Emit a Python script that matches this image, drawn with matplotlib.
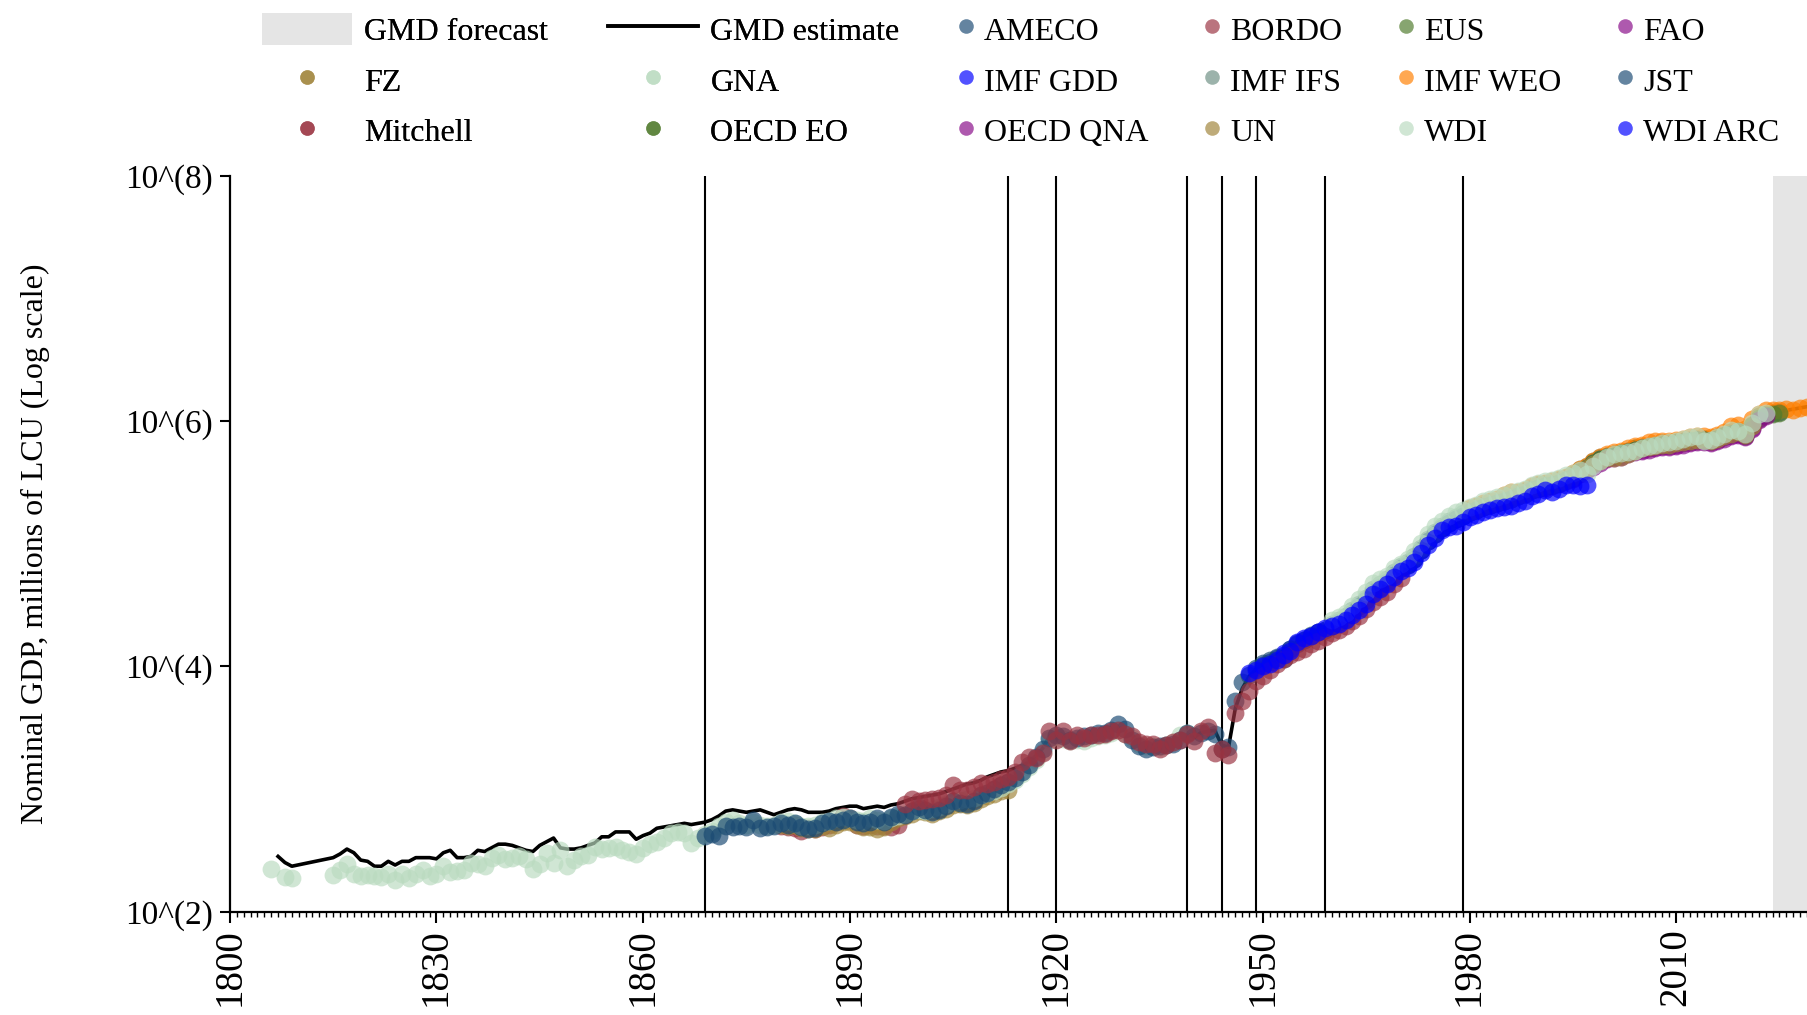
import matplotlib
matplotlib.use("Agg")
import matplotlib.pyplot as plt
import numpy as np
from matplotlib.lines import Line2D
from matplotlib.patches import Patch
from matplotlib.ticker import MultipleLocator, NullLocator

plt.rcParams['font.family'] = ['Liberation Serif', 'DejaVu Serif']

# GMD estimate, log10 of nominal GDP (millions of LCU)
gmd_years = [1807, 1808, 1809] + list(range(1815, 2030))
gmd_log = [2.45, 2.40, 2.37,
           2.44, 2.47, 2.51, 2.48, 2.42, 2.41, 2.37, 2.37, 2.41, 2.38,
           2.41, 2.41, 2.44, 2.44, 2.44, 2.43, 2.48, 2.50, 2.44, 2.44,
           2.45, 2.50, 2.49, 2.52, 2.55, 2.55, 2.54, 2.52, 2.50, 2.49,
           2.54, 2.57, 2.60, 2.52, 2.51, 2.51, 2.52, 2.54, 2.56, 2.61,
           2.61, 2.65, 2.65, 2.65, 2.59, 2.62, 2.64, 2.68, 2.69, 2.70,
           2.71, 2.72, 2.71, 2.72,
           2.73, 2.75, 2.78, 2.82, 2.83, 2.82, 2.81, 2.82, 2.83, 2.81,
           2.79, 2.81, 2.83, 2.84, 2.83, 2.81, 2.81, 2.81, 2.82, 2.84,
           2.85, 2.86, 2.86, 2.84, 2.85, 2.86, 2.85, 2.87, 2.88, 2.90,
           2.92, 2.93, 2.94, 2.95, 2.96, 2.98, 3.00, 3.02, 3.04, 3.05,
           3.07, 3.10, 3.12, 3.14, 3.15, 3.17, 3.19, 3.22, 3.27, 3.33,
           3.43,
           3.45, 3.45, 3.41, 3.43, 3.43, 3.44, 3.45, 3.45, 3.47, 3.50,
           3.47, 3.44, 3.39, 3.37, 3.36, 3.35, 3.37, 3.39, 3.42, 3.45,
           3.42, 3.46, 3.47, 3.48, 3.36, 3.34,
           3.66, 3.82, 3.92, 3.98, 4.02, 4.06, 4.09, 4.13, 4.16, 4.20,
           4.24, 4.27, 4.29, 4.31, 4.34, 4.37, 4.40, 4.45, 4.50, 4.55,
           4.62, 4.66, 4.70, 4.76, 4.81, 4.84, 4.89, 4.96, 5.03, 5.09,
           5.14, 5.18, 5.21, 5.24, 5.27, 5.29, 5.31, 5.33, 5.34, 5.36,
           5.38, 5.40, 5.42, 5.45, 5.47, 5.48, 5.49, 5.51, 5.53, 5.56,
           5.60, 5.63, 5.67, 5.70, 5.72, 5.73, 5.74, 5.76, 5.78, 5.79,
           5.80, 5.81, 5.82, 5.82, 5.83, 5.84, 5.85, 5.86, 5.86, 5.85,
           5.87, 5.89, 5.91, 5.92, 5.90, 5.97, 6.04, 6.06, 6.07, 6.08,
           6.09, 6.10, 6.11, 6.12]

# source series (log10 values)
ameco_years = list(range(1970, 2026))
ameco_log = [4.80, 4.84, 4.88, 4.95, 5.02, 5.08, 5.13, 5.17, 5.20, 5.23,
             5.26, 5.28, 5.30, 5.32, 5.34, 5.36, 5.38, 5.40, 5.42, 5.45,
             5.47, 5.48, 5.49, 5.51, 5.53, 5.56, 5.60, 5.63, 5.67, 5.70,
             5.72, 5.73, 5.74, 5.76, 5.78, 5.79, 5.80, 5.81, 5.82, 5.82,
             5.83, 5.84, 5.85, 5.86, 5.86, 5.85, 5.87, 5.89, 5.91, 5.92,
             5.90, 5.97, 6.04, 6.06, 6.07, 6.08]

bordo_years = list(range(1880, 1914))
bordo_log = [2.70, 2.69, 2.68, 2.66, 2.68, 2.67, 2.69, 2.71, 2.73, 2.78,
             2.76, 2.71, 2.70, 2.71, 2.70, 2.70, 2.69, 2.71, 2.79, 2.82,
             2.84, 2.83, 2.82, 2.84, 2.87, 2.90, 2.90, 2.89, 2.91, 2.95,
             2.97, 3.00, 3.03, 3.06]

eus_years = list(range(1995, 2023))
eus_log = [5.56, 5.60, 5.63, 5.67, 5.70, 5.72, 5.73, 5.74, 5.76, 5.78,
           5.79, 5.80, 5.81, 5.82, 5.82, 5.83, 5.84, 5.85, 5.86, 5.86,
           5.85, 5.87, 5.89, 5.91, 5.92, 5.90, 5.97, 6.04]

fao_years = list(range(1990, 2023))
fao_log = [5.45, 5.46, 5.47, 5.49, 5.51, 5.54, 5.58, 5.61, 5.65, 5.68,
           5.70, 5.71, 5.72, 5.74, 5.76, 5.77, 5.78, 5.79, 5.80, 5.80,
           5.81, 5.82, 5.83, 5.84, 5.84, 5.83, 5.85, 5.87, 5.89, 5.90,
           5.88, 5.95, 6.02]

fz_years = list(range(1880, 1914))
fz_log = [2.71, 2.70, 2.71, 2.68, 2.67, 2.67, 2.70, 2.68, 2.71, 2.73,
          2.73, 2.71, 2.69, 2.69, 2.67, 2.69, 2.73, 2.76, 2.78, 2.80,
          2.82, 2.81, 2.80, 2.82, 2.84, 2.87, 2.88, 2.87, 2.89, 2.92,
          2.94, 2.96, 2.98, 2.99]

gna_years = [1806, 1808, 1809] + list(range(1815, 1940))
gna_log = [2.35, 2.28, 2.27,
           2.30, 2.34, 2.39, 2.31, 2.29, 2.30, 2.29, 2.28, 2.31, 2.26,
           2.31, 2.27, 2.31, 2.34, 2.29, 2.31, 2.37, 2.32, 2.33, 2.34,
           2.40, 2.39, 2.37, 2.44, 2.46, 2.43, 2.44, 2.45, 2.43, 2.35,
           2.39, 2.48, 2.40, 2.50, 2.37, 2.42, 2.45, 2.46, 2.53, 2.51,
           2.52, 2.53, 2.50, 2.49, 2.47, 2.52, 2.55, 2.57, 2.60, 2.64,
           2.65, 2.64, 2.56, 2.60, 2.63, 2.66, 2.70, 2.73, 2.75, 2.72,
           2.71, 2.73, 2.71, 2.70, 2.71, 2.73, 2.74, 2.72, 2.70, 2.70,
           2.71, 2.73, 2.74, 2.76, 2.77, 2.76, 2.75, 2.74, 2.76, 2.75,
           2.74, 2.76, 2.78, 2.80, 2.82, 2.83, 2.82, 2.84, 2.85, 2.88,
           2.90, 2.91, 2.92, 2.93, 2.95, 2.97, 2.98, 3.01,
           3.04, 3.07, 3.12, 3.18, 3.24, 3.30, 3.40, 3.43, 3.41, 3.39,
           3.40, 3.39, 3.42, 3.43, 3.44, 3.46, 3.48, 3.45, 3.42, 3.37,
           3.35, 3.35, 3.34, 3.36, 3.38, 3.44, 3.46]

imf_gdd_years = list(range(1950, 1991))
imf_gdd_log = [4.01, 4.04, 4.07, 4.11, 4.14, 4.18, 4.22, 4.25, 4.28, 4.30,
               4.33, 4.36, 4.39, 4.44, 4.49, 4.54, 4.61, 4.65, 4.69, 4.75,
               4.80, 4.83, 4.88, 4.95, 5.02, 5.08, 5.13, 5.17, 5.20, 5.23,
               5.26, 5.28, 5.30, 5.32, 5.33, 5.35, 5.37, 5.39, 5.41, 5.44,
               5.46]

imf_ifs_years = list(range(1960, 2000))
imf_ifs_log = [4.35, 4.38, 4.41, 4.46, 4.51, 4.56, 4.63, 4.67, 4.71, 4.77,
               4.82, 4.85, 4.90, 4.97, 5.04, 5.10, 5.15, 5.19, 5.22, 5.25,
               5.28, 5.30, 5.32, 5.34, 5.35, 5.37, 5.39, 5.41, 5.43, 5.46,
               5.48, 5.49, 5.50, 5.52, 5.54, 5.57, 5.61, 5.64, 5.68, 5.71]

imf_weo_years = list(range(1980, 2030))
imf_weo_log = [5.29, 5.31, 5.33, 5.35, 5.37, 5.40, 5.42, 5.42, 5.44, 5.47,
               5.49, 5.50, 5.51, 5.53, 5.55, 5.58, 5.61, 5.64, 5.68, 5.71,
               5.73, 5.75, 5.76, 5.78, 5.80, 5.81, 5.83, 5.84, 5.84, 5.84,
               5.85, 5.86, 5.87, 5.88, 5.88, 5.87, 5.89, 5.91, 5.96, 5.97,
               5.94, 6.02, 6.06, 6.09, 6.09, 6.09, 6.10, 6.09, 6.11, 6.12]

jst_years = list(range(1869, 2021))
jst_log = [2.62, 2.63, 2.62, 2.70, 2.69, 2.70, 2.69, 2.75, 2.68, 2.69,
           2.70, 2.72, 2.71, 2.72, 2.69, 2.67, 2.68, 2.72, 2.74, 2.73,
           2.75, 2.76, 2.73, 2.72, 2.73, 2.76, 2.73, 2.77, 2.80, 2.79,
           2.82, 2.85, 2.83, 2.81, 2.83, 2.86, 2.90, 2.89, 2.88, 2.90,
           2.95, 2.97, 3.00, 3.03,
           3.06, 3.09, 3.14, 3.20, 3.26, 3.33, 3.42, 3.44, 3.43, 3.40,
           3.42, 3.43, 3.44, 3.46, 3.46, 3.48, 3.53, 3.49, 3.40, 3.35,
           3.33, 3.34, 3.35, 3.36, 3.37, 3.40, 3.46, 3.43, 3.46, 3.47,
           3.45, 3.33, 3.34,
           3.72, 3.87, 3.93, 3.99, 4.03, 4.05, 4.08, 4.06, 4.14, 4.19,
           4.22, 4.26, 4.28, 4.30, 4.33, 4.36, 4.39, 4.44, 4.49, 4.54,
           4.60, 4.64, 4.69, 4.75, 4.80, 4.83, 4.88, 4.95, 5.02, 5.08,
           5.13, 5.17, 5.20, 5.23, 5.26, 5.28, 5.30, 5.32, 5.33, 5.35,
           5.37, 5.39, 5.41, 5.44, 5.46, 5.47, 5.48, 5.50, 5.52, 5.55,
           5.59, 5.62, 5.66, 5.69, 5.71, 5.72, 5.73, 5.75, 5.77, 5.78,
           5.79, 5.80, 5.81, 5.81, 5.82, 5.83, 5.84, 5.85, 5.85, 5.84,
           5.86, 5.88, 5.90, 5.91, 5.89]

mitchell_years = list(range(1898, 1971))
mitchell_log = [2.88, 2.92,
                2.90, 2.91, 2.92, 2.93, 2.95, 3.03, 2.99, 2.99, 3.02, 3.05,
                3.04, 3.06, 3.08, 3.10, 3.14, 3.22, 3.26, 3.25, 3.29, 3.47,
                3.40, 3.47, 3.39, 3.44, 3.42, 3.44, 3.44, 3.45, 3.47, 3.48,
                3.45, 3.43, 3.38, 3.37, 3.37, 3.33, 3.36, 3.38, 3.40, 3.45,
                3.39, 3.47, 3.51, 3.29, 3.33, 3.28, 3.62, 3.72, 3.80, 3.88,
                3.92, 3.97, 4.02, 4.06, 4.09, 4.12, 4.14, 4.18, 4.21, 4.24,
                4.27, 4.30, 4.33, 4.37, 4.41, 4.47, 4.53, 4.57, 4.61, 4.67,
                4.72]

oecd_eo_years = list(range(1990, 2026))
oecd_eo_log = [5.46, 5.47, 5.48, 5.50, 5.52, 5.55, 5.59, 5.62, 5.66, 5.69,
               5.71, 5.72, 5.74, 5.75, 5.77, 5.78, 5.79, 5.80, 5.81, 5.81,
               5.82, 5.83, 5.84, 5.85, 5.85, 5.84, 5.86, 5.88, 5.90, 5.91,
               5.88, 5.96, 6.03, 6.05, 6.06, 6.07]

oecd_qna_years = list(range(1995, 2024))
oecd_qna_log = [5.53, 5.57, 5.60, 5.63, 5.66, 5.69, 5.70, 5.71, 5.73, 5.75,
                5.76, 5.77, 5.78, 5.79, 5.79, 5.80, 5.81, 5.82, 5.83, 5.83,
                5.82, 5.84, 5.86, 5.88, 5.89, 5.87, 5.94, 6.01, 6.04]

un_years = list(range(1980, 2022))
un_log = [5.26, 5.28, 5.30, 5.32, 5.33, 5.35, 5.37, 5.39, 5.41, 5.44,
          5.46, 5.47, 5.48, 5.50, 5.52, 5.55, 5.59, 5.62, 5.65, 5.68,
          5.70, 5.70, 5.71, 5.73, 5.76, 5.78, 5.79, 5.80, 5.81, 5.81,
          5.82, 5.83, 5.84, 5.85, 5.85, 5.84, 5.86, 5.88, 5.90, 5.91,
          5.89, 5.96]

wdi_years = list(range(1960, 2024))
wdi_log = [4.38, 4.40, 4.44, 4.49, 4.55, 4.61, 4.68, 4.71, 4.74, 4.80,
           4.84, 4.88, 4.94, 5.01, 5.08, 5.15, 5.19, 5.23, 5.26, 5.28,
           5.30, 5.32, 5.35, 5.37, 5.38, 5.40, 5.42, 5.43, 5.45, 5.48,
           5.50, 5.51, 5.52, 5.54, 5.56, 5.58, 5.60, 5.57, 5.64, 5.68,
           5.71, 5.73, 5.74, 5.75, 5.76, 5.78, 5.80, 5.81, 5.82, 5.83,
           5.84, 5.86, 5.87, 5.88, 5.84, 5.85, 5.87, 5.90, 5.93, 5.92,
           5.90, 5.99, 6.06, 6.07]

wdi_arc_years = list(range(1948, 1998))
wdi_arc_log = [3.95, 3.97, 4.00, 4.02, 4.05, 4.09, 4.13, 4.20, 4.23, 4.25,
               4.28, 4.31, 4.33, 4.35, 4.38, 4.42, 4.46, 4.51, 4.59, 4.63,
               4.67, 4.73, 4.78, 4.80, 4.85, 4.93, 4.99, 5.05, 5.11, 5.14,
               5.15, 5.18, 5.22, 5.24, 5.26, 5.28, 5.29, 5.30, 5.31, 5.33,
               5.35, 5.39, 5.41, 5.44, 5.42, 5.45, 5.48, 5.48, 5.47, 5.48]

sources = [
    ("AMECO", ameco_years, ameco_log, "#1a4a73"),
    ("BORDO", bordo_years, bordo_log, "#9a3341"),
    ("EUS", eus_years, eus_log, "#4f7a2c"),
    ("FAO", fao_years, fao_log, "#880a88"),
    ("FZ", fz_years, fz_log, "#a0843a"),
    ("GNA", gna_years, gna_log, "#badbc0"),
    ("IMF GDD", imf_gdd_years, imf_gdd_log, "#0000ff"),
    ("IMF IFS", imf_ifs_years, imf_ifs_log, "#6e9083"),
    ("IMF WEO", imf_weo_years, imf_weo_log, "#ff7f00"),
    ("JST", jst_years, jst_log, "#1a4a73"),
    ("Mitchell", mitchell_years, mitchell_log, "#9a3341"),
    ("OECD EO", oecd_eo_years, oecd_eo_log, "#4f7a2c"),
    ("OECD QNA", oecd_qna_years, oecd_qna_log, "#880a88"),
    ("UN", un_years, un_log, "#a0843a"),
    ("WDI", wdi_years, wdi_log, "#badbc0"),
    ("WDI ARC", wdi_arc_years, wdi_arc_log, "#0000ff"),
]

event_years = [1869, 1913, 1920, 1939, 1944, 1949, 1959, 1979]
forecast_start = 2024
x_min, x_max = 1800, 2029

fig = plt.figure(figsize=(18.07, 10.15), dpi=100)
ax = fig.add_axes([0.1272, 0.1019, 0.8728, 0.7244])

ax.axvspan(forecast_start, x_max, color="#e5e5e5", lw=0, zorder=0)
for yr in event_years:
    ax.axvline(yr, color="black", lw=1.5, zorder=1)

ax.plot(gmd_years, np.power(10.0, gmd_log), color="black", lw=2.6, zorder=2)

alpha = 0.68
handles = {}
for name, yrs, vals, col in sources:
    ax.scatter(yrs, np.power(10.0, vals), s=165, color=col, alpha=alpha,
               linewidths=0, zorder=3)
    handles[name] = Line2D([], [], marker="o", linestyle="none", markersize=10.5,
                           color=col, alpha=alpha, markeredgewidth=0)

ax.set_yscale("log")
ax.set_ylim(1e2, 1e8)
ax.set_xlim(x_min, x_max)
ax.set_yticks([1e2, 1e4, 1e6, 1e8])
ax.set_yticklabels(["10^(2)", "10^(4)", "10^(6)", "10^(8)"])
ax.yaxis.set_minor_locator(NullLocator())
ax.set_xticks(list(range(1800, 2030, 30)))
ax.xaxis.set_minor_locator(MultipleLocator(1))

for s in ["top", "right"]:
    ax.spines[s].set_visible(False)
for s in ["left", "bottom"]:
    ax.spines[s].set_linewidth(1.6)

ax.tick_params(axis="y", which="major", length=7, width=1.5, pad=5, labelsize=24)
ax.tick_params(axis="x", which="major", length=8, width=1.5, pad=4, labelsize=28,
               labelrotation=90)
ax.tick_params(axis="x", which="minor", length=3.5, width=1.0)

fig.text(35 / 1807, 0.464, "Nominal GDP, millions of LCU (Log scale)",
         rotation=90, ha="center", va="center", fontsize=23)

# legend, laid out in rows like the original
fs = 23
h_forecast = Patch(facecolor="#e5e5e5", edgecolor="none")
h_estimate = Line2D([], [], color="black", lw=2.6)
leg1 = fig.legend([h_forecast, handles["FZ"], handles["Mitchell"],
                   h_estimate, handles["GNA"], handles["OECD EO"]],
                  ["GMD forecast", "FZ", "Mitchell",
                   "GMD estimate", "GNA", "OECD EO"],
                  ncol=2, loc="upper left", bbox_to_anchor=(261.6 / 1807, 0.9875),
                  frameon=False, fontsize=fs, handlelength=2.82, handleheight=1.2,
                  handletextpad=0.4, columnspacing=1.85, labelspacing=0.52,
                  borderpad=0, borderaxespad=0)
order2 = ["AMECO", "IMF GDD", "OECD QNA", "BORDO", "IMF IFS", "UN",
          "EUS", "IMF WEO", "WDI", "FAO", "JST", "WDI ARC"]
leg2 = fig.legend([handles[n] for n in order2], order2,
                  ncol=4, loc="upper left", bbox_to_anchor=(958.7 / 1807, 0.9875),
                  frameon=False, fontsize=fs, handlelength=0.45, handleheight=1.2,
                  handletextpad=0.33, columnspacing=1.78, labelspacing=0.52,
                  borderpad=0, borderaxespad=0)
fig.add_artist(leg1)

fig.savefig("out.png", dpi=100)
